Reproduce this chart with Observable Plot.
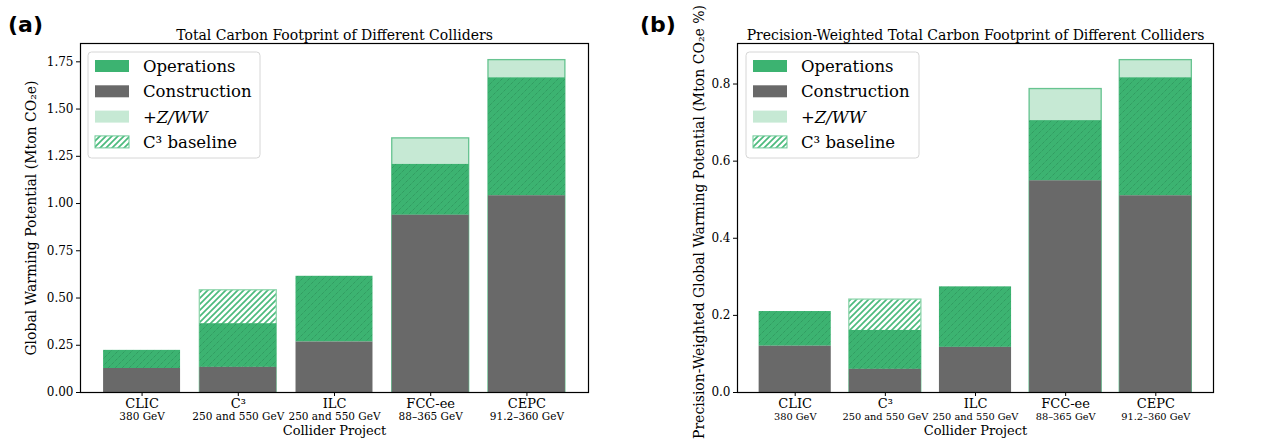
<!DOCTYPE html>
<html><head><meta charset="utf-8">
<script src="https://cdn.jsdelivr.net/npm/d3@7"></script>
<script src="https://cdn.jsdelivr.net/npm/@observablehq/plot@0.6"></script>
<style>
body{margin:0;background:#fff;}
#root{position:relative;width:1272px;height:445px;overflow:hidden;font-family:"DejaVu Serif",serif;background:#fff;}
.panel{position:absolute;top:0;}
#overlay{position:absolute;left:0;top:0;pointer-events:none;}
</style>
</head><body>
<svg width="0" height="0" style="position:absolute">
<defs>
<pattern id="opsHatch" patternUnits="userSpaceOnUse" width="7" height="7">
  <rect width="7" height="7" fill="#3cb371"/>
  <path d="M-1,1 l2,-2 M0,7 l7,-7 M6,8 l2,-2" stroke="#217a49" stroke-width="0.8" stroke-dasharray="1,1" opacity="0.75"/>
</pattern>
<pattern id="baseHatch" patternUnits="userSpaceOnUse" width="6" height="6">
  <rect width="6" height="6" fill="#fff"/>
  <path d="M-1,1 l2,-2 M0,6 l6,-6 M5,7 l2,-2" stroke="#4cbb7d" stroke-width="1.7"/>
</pattern>
</defs></svg>
<div id="root"></div>
<script>
// ---- data ----
const colliders = ["CLIC", "C³", "ILC", "FCC-ee", "CEPC"];
const energies = ["380 GeV", "250 and 550 GeV", "250 and 550 GeV", "88–365 GeV", "91.2–360 GeV"];

// Panel (a): Total carbon footprint (Mton CO2e), stacked increments
const constructionA = [0.127, 0.133, 0.267, 0.938, 1.041];
const operationsA   = [0.096, 0.231, 0.348, 0.269, 0.624];
const zwwA          = [0, 0, 0, 0.138, 0.094];
const baselineA     = [0, 0.177, 0, 0, 0];
const yTicksA = [0, 0.25, 0.5, 0.75, 1.0, 1.25, 1.5, 1.75];

// Panel (b): Precision-weighted (Mton CO2e %), stacked increments
const constructionB = [0.120, 0.060, 0.117, 0.549, 0.510];
const operationsB   = [0.090, 0.101, 0.157, 0.156, 0.306];
const zwwB          = [0, 0, 0, 0.082, 0.046];
const baselineB     = [0, 0.080, 0, 0, 0];
const yTicksB = [0, 0.2, 0.4, 0.6, 0.8];

const legendLabels = ["Operations", "Construction", "+Z/WW", "C³ baseline"];
const titleA = "Total Carbon Footprint of Different Colliders";
const titleB = "Precision-Weighted Total Carbon Footprint of Different Colliders";
const yLabelA = "Global Warming Potential (Mton CO₂e)";
const yLabelB = "Precision-Weighted Global Warming Potential (Mton CO₂e %)";
const xLabel = "Collider Project";

const GREEN = "#3cb371", GRAY = "#696969", LIGHT = "#c6e9d4";
const FONT = "DejaVu Serif";

function makeChart({cons, ops, zww, base, ticks, fmt, ylabel, title, width, marginLeft, marginRight, ylabelDx, ylabelDy, energySize}) {
  const rows = colliders.map((name, i) => {
    const c = cons[i], o = c + ops[i], z = o + zww[i], t = z + base[i];
    return {name, energy: energies[i], c, o, z, t, hasZ: zww[i] > 0, hasB: base[i] > 0};
  });
  const ymax = d3.max(rows, d => d.t) * 1.05;
  return Plot.plot({
    width, height: 445, marginLeft, marginRight, marginTop: 43, marginBottom: 53,
    style: {fontFamily: FONT, fontSize: "12px", background: "white", overflow: "visible", color: "black"},
    x: {type: "band", domain: colliders, paddingInner: 0.2, paddingOuter: 0.24, round: false, label: null},
    y: {domain: [0, ymax], label: null},
    marks: [
      Plot.barY(rows.filter(d => d.hasZ), {x: "name", y1: 0, y2: "t", fill: LIGHT, stroke: GREEN, strokeWidth: 1.3, strokeOpacity: 0.75}),
      Plot.barY(rows.filter(d => d.hasB), {x: "name", y1: 0, y2: "t", fill: "url(#baseHatch)", stroke: "#8fd6ad", strokeWidth: 1.3}),
      Plot.barY(rows, {x: "name", y1: "c", y2: "o", fill: "url(#opsHatch)"}),
      Plot.barY(rows, {x: "name", y1: 0, y2: "c", fill: GRAY}),
      Plot.frame({stroke: "black", strokeWidth: 1.2}),
      Plot.axisY({ticks, tickFormat: fmt, tickSize: 4, tickPadding: 3, fontSize: 12, fontFamily: FONT, label: null}),
      Plot.axisX({tickSize: 4, tickPadding: 2, fontSize: 13, fontFamily: FONT, label: null}),
      Plot.text(rows, {x: "name", text: "energy", frameAnchor: "bottom", dy: 27, fontSize: energySize, fontFamily: FONT}),
      Plot.text([xLabel], {text: d => d, frameAnchor: "bottom", dy: 42, fontSize: 13, fontFamily: FONT}),
      Plot.text([title], {text: d => d, frameAnchor: "top", dy: -13.5, fontSize: 14, fontFamily: FONT}),
      Plot.text([ylabel], {text: d => d, frameAnchor: "left", textAnchor: "middle", rotate: -90, dx: ylabelDx, dy: ylabelDy, fontSize: 14, fontFamily: FONT})
    ]
  });
}

const root = document.getElementById("root");

const chartA = makeChart({cons: constructionA, ops: operationsA, zww: zwwA, base: baselineA,
  ticks: yTicksA, fmt: d3.format(".2f"), ylabel: yLabelA, title: titleA,
  width: 600, marginLeft: 80, marginRight: 12, ylabelDx: -49, ylabelDy: 0, energySize: 10.5});
const chartB = makeChart({cons: constructionB, ops: operationsB, zww: zwwB, base: baselineB,
  ticks: yTicksB, fmt: d3.format(".1f"), ylabel: yLabelB, title: titleB,
  width: 632, marginLeft: 97, marginRight: 59, ylabelDx: -38, ylabelDy: 4, energySize: 9.8});

const wa = document.createElement("div"); wa.className = "panel"; wa.style.left = "0px"; wa.appendChild(chartA); root.appendChild(wa);
const wb = document.createElement("div"); wb.className = "panel"; wb.style.left = "640px"; wb.appendChild(chartB); root.appendChild(wb);

// overlay: panel tags + legends
const ov = d3.select(root).append("svg").attr("id", "overlay").attr("width", 1272).attr("height", 445);
[["(a)", 8], ["(b)", 640]].forEach(([t, x]) => {
  ov.append("text").attr("x", x).attr("y", 32).attr("font-family", "DejaVu Sans").attr("font-weight", "bold")
    .attr("font-size", 22).text(t);
});

const legendFills = [GREEN, GRAY, LIGHT, "url(#baseHatch)"];
function legend(x0, y0, w) {
  const g = ov.append("g").attr("transform", `translate(${x0},${y0})`);
  g.append("rect").attr("width", w).attr("height", 106).attr("rx", 3.5)
    .attr("fill", "white").attr("fill-opacity", 0.8).attr("stroke", "#d6d6d6");
  legendLabels.forEach((lab, i) => {
    const cy = 14 + i * 25.3;
    g.append("rect").attr("x", 7).attr("y", cy - 6).attr("width", 34).attr("height", 12)
      .attr("fill", legendFills[i]).attr("stroke", i === 3 ? "#6cc996" : "none").attr("stroke-width", 1);
    const t = g.append("text").attr("x", 55).attr("y", cy + 6).attr("font-family", FONT).attr("font-size", 16.5);
    if (lab.startsWith("+")) {
      t.append("tspan").text("+");
      t.append("tspan").attr("font-style", "italic").text(lab.slice(1));
    } else t.text(lab);
  });
}
legend(88, 52, 172);
legend(746, 52, 173);
</script>
</body></html>
